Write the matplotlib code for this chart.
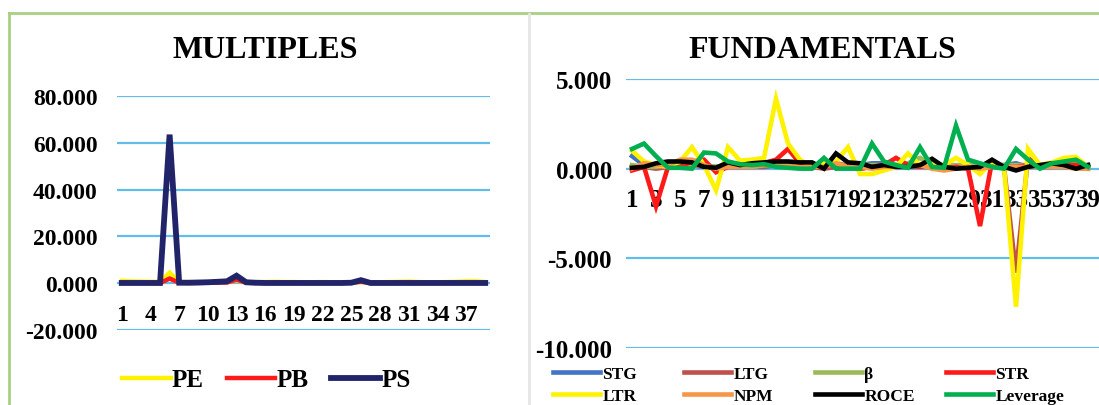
import matplotlib.pyplot as plt
from matplotlib.lines import Line2D

# ---- data -------------------------------------------------------------
cats = list(range(1, 40))

pe = [1.0, 0.8, 0.7, 0.6, 0.6, 4.5, 0.5, 0.5, 0.4, 0.4, 0.5, 0.6, 1.2,
      0.4, 0.4, 0.5, 0.6, 0.5, 0.5, 0.4, 0.4, 0.5, 0.4, 0.4, 0.4, 0.5,
      0.4, 0.4, 0.5, 0.6, 0.7, 0.5, 0.4, 0.4, 0.5, 0.6, 0.8, 0.8, 0.5]
pb = [0.2, 0.1, 0.1, 0.1, 0.1, 2.0, 0.2, 0.1, 0.1, 0.2, 0.2, 0.3, 1.5,
      0.2, 0.1, 0.2, 0.2, 0.3, 0.2, 0.1, 0.1, 0.1, 0.1, 0.2, 0.2, 0.6,
      0.2, 0.1, 0.1, 0.2, 0.2, 0.1, 0.1, 0.1, 0.1, 0.2, 0.2, 0.2, 0.1]
ps = [0.1, 0.1, 0.1, 0.1, 0.1, 63.5, 0.2, 0.2, 0.3, 0.4, 0.6, 0.8, 3.2,
      0.4, 0.2, 0.1, 0.1, 0.1, 0.1, 0.1, 0.1, 0.1, 0.1, 0.1, 0.2, 1.3,
      0.1, 0.1, 0.1, 0.1, 0.1, 0.1, 0.1, 0.1, 0.1, 0.1, 0.1, 0.1, 0.1]

stg = [0.7, 0.2, 0.1, 0.2, 0.2, 0.2, 0.1, 0.1, 0.2, 0.2, 0.2, 0.1, 0.2,
       0.2, 0.2, 0.1, 0.1, 0.2, 0.1, 0.2, 0.3, 0.3, 0.2, 0.1, 0.2, 0.2,
       0.1, 0.1, 0.2, 0.1, 0.2, 0.2, 0.3, 0.1, 0.2, 0.2, 0.1, 0.1, 0.2]
ltg = [0.1, 0.1, 0.0, 0.1, 0.1, 0.2, 0.1, 0.0, 0.1, 0.1, 0.1, 0.1, 0.2,
       0.1, 0.1, 0.1, 0.0, 0.1, 0.1, 0.0, 0.1, 0.1, 0.1, 0.1, 0.1, 0.2,
       0.1, 0.0, 0.1, 0.0, 0.1, 0.1, -5.8, 0.6, 0.1, 0.1, 0.1, 0.1, 0.0]
beta = [0.2, 0.1, 0.1, 0.2, 0.2, 0.2, 0.2, 0.1, 0.2, 0.2, 0.1, 0.2, 0.2,
        0.2, 0.2, 0.2, 0.2, 0.3, 0.2, 0.2, 0.2, 0.2, 0.2, 0.3, 0.6, 0.2,
        0.2, 0.2, 0.2, 0.2, 0.2, 0.2, 0.2, 0.2, 0.2, 0.2, 0.2, 0.3, 0.2]
strr = [-0.1, 0.1, -2.1, 0.1, 0.1, 0.4, 0.5, -0.2, 0.1, 0.1, 0.2, 0.3, 0.5,
        1.1, 0.3, 0.2, 0.1, 0.3, 0.1, 0.0, 0.1, 0.2, 0.6, 0.2, 0.1, 0.1,
        0.0, 0.1, 0.0, -3.2, 0.4, 0.1, 0.1, 0.2, 0.1, 0.1, 0.2, 0.2, 0.1]
ltr = [1.0, 0.4, 0.2, 0.1, 0.4, 1.2, 0.2, -1.2, 1.2, 0.45, 0.5, 0.6, 3.9,
       1.4, 0.5, 0.1, 0.3, 0.4, 1.2, -0.3, -0.3, -0.1, 0.1, 0.85, 0.2, 0.3,
       0.2, 0.6, 0.2, -0.3, 0.4, 0.1, -7.7, 1.1, 0.2, 0.35, 0.6, 0.65, 0.1]
npm = [0.0, 0.3, 0.2, 0.2, 0.5, 0.5, 0.2, 0.0, 0.1, 0.1, 0.1, 0.2, 0.2,
       0.2, 0.1, 0.1, 0.1, 0.3, 0.1, 0.1, 0.0, 0.1, 0.1, 0.1, 0.2, 0.0,
       -0.1, 0.0, 0.1, 0.0, 0.1, 0.1, 0.1, 0.1, 0.1, 0.1, 0.1, 0.0, 0.0]
roce = [0.05, 0.1, 0.3, 0.4, 0.4, 0.35, 0.1, 0.05, 0.35, 0.2, 0.3, 0.35, 0.4,
        0.4, 0.35, 0.35, 0.0, 0.85, 0.35, 0.3, 0.1, 0.2, 0.1, 0.1, 0.2, 0.55,
        0.1, 0.0, 0.05, 0.1, 0.5, 0.1, -0.1, 0.1, 0.2, 0.3, 0.2, 0.0, 0.2]
leverage = [1.1, 1.4, 0.7, 0.05, 0.05, 0.0, 0.9, 0.85, 0.4, 0.25, 0.2, 0.25, 0.1,
            0.05, 0.0, 0.0, 0.6, 0.0, 0.0, 0.0, 1.4, 0.4, 0.2, 0.05, 1.2, 0.1,
            0.05, 2.4, 0.5, 0.3, 0.1, 0.0, 1.1, 0.5, 0.0, 0.3, 0.4, 0.5, 0.1]

mult_series = [("PE", pe, "#FFF200"), ("PB", pb, "#FF1A1A"), ("PS", ps, "#22246A")]
fund_series = [("STG", stg, "#4472C4"), ("LTG", ltg, "#C0504D"),
               ("β", beta, "#9BBB59"), ("STR", strr, "#FF1A1A"),
               ("LTR", ltr, "#FFF200"), ("NPM", npm, "#F79646"),
               ("ROCE", roce, "#000000"), ("Leverage", leverage, "#00B050")]

# ---- style ------------------------------------------------------------
plt.rcParams['font.family'] = ['Liberation Serif', 'DejaVu Serif']
plt.rcParams['font.weight'] = 'bold'
grid_col = "#62BDEA"
W, H = 1099, 406

fig = plt.figure(figsize=(W / 100, H / 100), dpi=100)


def px(x0, y0, x1, y1):
    # pixel box -> figure fraction [left, bottom, width, height]
    return [x0 / W, 1 - y1 / H, (x1 - x0) / W, (y1 - y0) / H]


def style_axes(ax, ylim, yticks, xticks, ypad, xpad, fs):
    ax.set_ylim(*ylim)
    ax.set_yticks(yticks)
    ax.set_yticklabels([f"{v:.3f}" for v in yticks])
    ax.set_xticks(xticks)
    ax.set_xticklabels([str(v) for v in xticks])
    for s in ax.spines.values():
        s.set_visible(False)
    ax.spines['bottom'].set_position(('data', 0))
    ax.tick_params(length=0, labelsize=fs)
    ax.tick_params(axis='y', pad=ypad)
    ax.tick_params(axis='x', pad=xpad)
    for y in yticks:
        ax.axhline(y, color=grid_col, lw=1.6, zorder=0)
    ax.patch.set_alpha(0)


# ---- MULTIPLES --------------------------------------------------------
ax1 = fig.add_axes(px(117, 97, 490, 331))
mult_lines = []
for name, vals, col in mult_series:
    lw = 4.2 if name == "PS" else 3.2
    ln, = ax1.plot(cats, vals, color=col, lw=lw, label=name,
                   solid_joinstyle='miter')
    mult_lines.append(ln)
ax1.set_xlim(0.5, 39.5)
style_axes(ax1, (-20, 80), [-20, 0, 20, 40, 60, 80], cats[::3], 14, 15, 17)
fig.text(265 / W, 1 - 50 / H, "MULTIPLES", ha='center', va='center',
         fontsize=23, fontweight='bold')
fig.legend(handles=mult_lines, loc='center left',
           bbox_to_anchor=(122 / W, 1 - 381 / H), ncol=3, frameon=False,
           fontsize=18, handlelength=1.95, handletextpad=0.05,
           columnspacing=0.9, borderpad=0, borderaxespad=0)

# ---- FUNDAMENTALS -----------------------------------------------------
ax2 = fig.add_axes(px(626, 80, 1099, 349))
fund_lines = []
for name, vals, col in fund_series:
    ln, = ax2.plot(cats, vals, color=col, lw=3.3, label=name,
                   solid_joinstyle='miter')
    fund_lines.append(ln)
ax2.set_xlim(0.5, 39.5 + 5 / 12)
style_axes(ax2, (-10, 5), [-10, -5, 0, 5], cats[::2], 10, 14, 18)
fig.text(822 / W, 1 - 50 / H, "FUNDAMENTALS", ha='center', va='center',
         fontsize=23, fontweight='bold')

col_x = [553, 684, 815, 946]
for i, x in enumerate(col_x):
    hs = [fund_lines[i], fund_lines[i + 4]]
    fig.legend(handles=hs, loc='center left',
               bbox_to_anchor=(x / W, 1 - 386 / H), ncol=1, frameon=False,
               fontsize=12.5, handlelength=2.7, handletextpad=0.15,
               labelspacing=0.3, borderpad=0, borderaxespad=0)

# ---- frame ------------------------------------------------------------
fig.add_artist(Line2D([9 / W, 1], [1 - 14 / H, 1 - 14 / H],
                      transform=fig.transFigure, color="#A8CF82", lw=2))
fig.add_artist(Line2D([9 / W, 9 / W], [0, 1 - 14 / H],
                      transform=fig.transFigure, color="#A8CF82", lw=2))
fig.add_artist(Line2D([529 / W, 529 / W], [0, 1 - 15 / H],
                      transform=fig.transFigure, color="#E6E6E6", lw=2))

fig.savefig("out.png", dpi=100)
